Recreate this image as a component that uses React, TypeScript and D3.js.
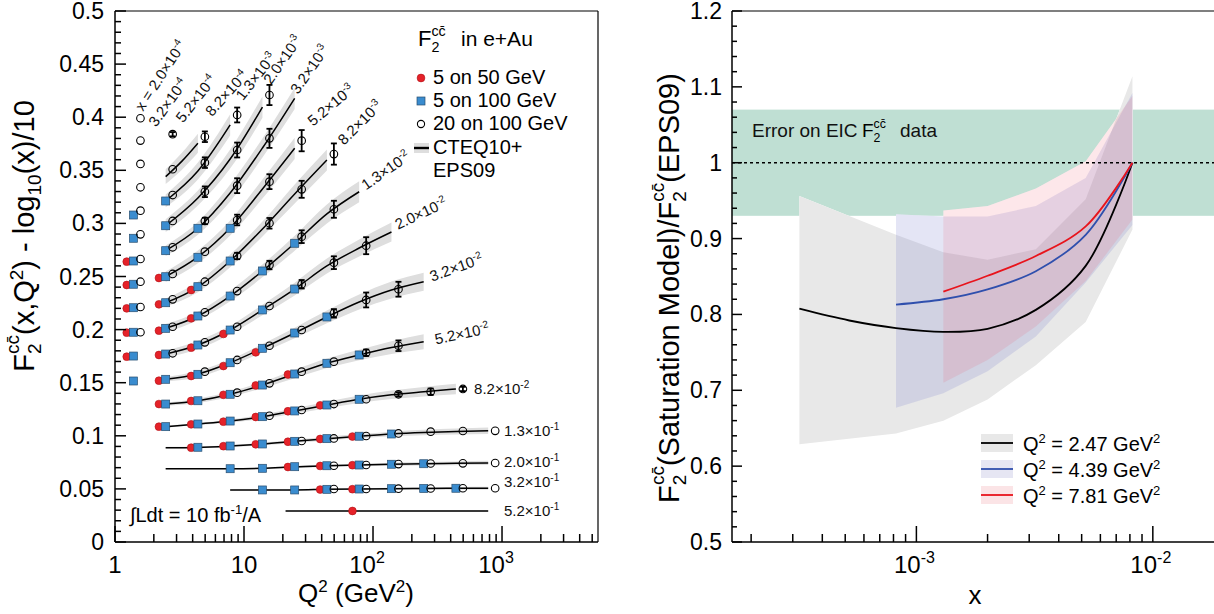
import React from 'react';
import * as d3 from 'd3';

const W = 1214;
const H = 614;
const FONT = "'Liberation Sans', Arial, Helvetica, sans-serif";

// ---------------- Left panel: F2cc(x,Q2) - log10(x)/10 versus Q2 ----------------
const Q2_COLUMNS = [1.39, 2.47, 4.39, 7.81, 13.9, 24.7, 43.9, 78.1, 139, 247, 439, 781];
const RED_Q2_FACTOR = 0.887; // 5 on 50 GeV points drawn slightly left
const WHITE_Q2_FACTOR = 1.133; // 20 on 100 GeV points drawn slightly right

const BIN_MANTISSA = ['2.0', '3.2', '5.2', '8.2', '1.3', '2.0', '3.2', '5.2', '8.2', '1.3', '2.0', '3.2', '5.2', '8.2', '1.3', '2.0', '3.2', '5.2'];
const BIN_EXPONENT = [-4, -4, -4, -4, -3, -3, -3, -3, -3, -2, -2, -2, -2, -2, -1, -1, -1, -1];
const LABEL_Q2 = [1.65, 2.08, 3.37, 5.65, 9.83, 16.2, 26.2, 34.3, 59.6, 88.3, 156, 287, 308, 607, 1036, 1036, 1036, 1036];
const LABEL_VAL = [0.405, 0.39, 0.394, 0.4, 0.415, 0.43, 0.421, 0.391, 0.373, 0.331, 0.294, 0.245, 0.186, 0.139, 0.0998, 0.0706, 0.0518, 0.0245];
const LABEL_ANGLE = [57, 54, 52, 48, 52, 55, 55, 40, 45, 35, 25, 20, 12, 0, 0, 0, 0, 0];

// model curves CTEQ10+EPS09: [Q2, value, band half width]
const CURVE_8_2E4 = [[2.47, 0.344, 0.007], [3.29, 0.3584, 0.008], [4.39, 0.3755, 0.009]];
const CURVE_1_3E3 = [[2.47, 0.3211, 0.006], [4.39, 0.3493, 0.008], [7.81, 0.3927, 0.01]];
const CURVE_2_0E3 = [[2.47, 0.2978, 0.006], [4.39, 0.3239, 0.007], [7.81, 0.3606, 0.009], [13.9, 0.4096, 0.01]];
const CURVE_3_2E3 = [[2.47, 0.2743, 0.005], [4.39, 0.2954, 0.006], [7.81, 0.3286, 0.008], [13.9, 0.371, 0.009], [24.7, 0.4178, 0.01]];
const CURVE_5_2E3 = [[2.47, 0.2498, 0.005], [4.39, 0.2684, 0.006], [7.81, 0.2957, 0.007], [13.9, 0.3324, 0.009], [24.7, 0.3707, 0.01]];
const CURVE_8_2E3 = [[2.47, 0.2253, 0.004], [4.39, 0.2401, 0.005], [7.81, 0.2646, 0.006], [13.9, 0.2947, 0.007], [24.7, 0.3277, 0.009], [43.9, 0.3597, 0.01]];
const CURVE_1_3E2 = [[2.47, 0.2012, 0.004], [4.39, 0.2128, 0.004], [7.81, 0.2316, 0.005], [13.9, 0.2552, 0.006], [24.7, 0.2813, 0.007], [43.9, 0.3089, 0.009], [78.1, 0.3298, 0.01]];
const CURVE_2_0E2 = [[2.47, 0.177, 0.003], [4.39, 0.1855, 0.004], [7.81, 0.1996, 0.004], [13.9, 0.2185, 0.005], [24.7, 0.2382, 0.006], [43.9, 0.2599, 0.007], [78.1, 0.2768, 0.008], [139, 0.2919, 0.009]];
const CURVE_3_2E2 = [[2.47, 0.1532, 0.002], [4.39, 0.1582, 0.003], [7.81, 0.1688, 0.003], [13.9, 0.1824, 0.004], [24.7, 0.1968, 0.005], [43.9, 0.2119, 0.006], [78.1, 0.226, 0.007], [139, 0.2373, 0.008], [247, 0.2451, 0.0085]];
const CURVE_5_2E2 = [[2.47, 0.1299, 0.0015], [4.39, 0.133, 0.002], [7.81, 0.1391, 0.0025], [13.9, 0.1478, 0.003], [24.7, 0.1582, 0.004], [43.9, 0.1683, 0.0045], [78.1, 0.1761, 0.005], [139, 0.1831, 0.006], [247, 0.1886, 0.007]];
const CURVE_8_2E2 = [[2.47, 0.1086, 0.001], [4.39, 0.1111, 0.001], [7.81, 0.1139, 0.0015], [13.9, 0.118, 0.002], [24.7, 0.1234, 0.0025], [43.9, 0.129, 0.003], [78.1, 0.1344, 0.0035], [139, 0.1386, 0.004], [247, 0.1415, 0.0045], [439, 0.1441, 0.005]];
const CURVE_1_3E1 = [[2.47, 0.0888, 0.0008], [4.39, 0.0891, 0.0008], [7.81, 0.0904, 0.001], [13.9, 0.0923, 0.0012], [24.7, 0.0948, 0.0015], [43.9, 0.0973, 0.0018], [78.1, 0.0996, 0.002], [139, 0.1017, 0.0022], [247, 0.1031, 0.0025], [439, 0.104, 0.0028], [781, 0.1047, 0.003]];
const CURVE_2_0E1 = [[2.47, 0.069, 0.0006], [4.39, 0.069, 0.0006], [7.81, 0.069, 0.0007], [13.9, 0.0694, 0.0008], [24.7, 0.0709, 0.001], [43.9, 0.0718, 0.0011], [78.1, 0.0725, 0.0012], [139, 0.0732, 0.0014], [247, 0.0737, 0.0016], [439, 0.0741, 0.0018], [781, 0.0744, 0.002]];
const CURVE_3_2E1 = [[7.81, 0.049, 0.0005], [13.9, 0.049, 0.0006], [24.7, 0.049, 0.0007], [43.9, 0.0496, 0.0008], [78.1, 0.0499, 0.0009], [139, 0.0502, 0.001], [247, 0.0504, 0.0011], [439, 0.0506, 0.0013], [781, 0.0506, 0.0015]];
const CURVE_5_2E1 = [[21, 0.0292, 0.0005], [781, 0.0292, 0.001]];
const CURVES = [null, null, null, CURVE_8_2E4, CURVE_1_3E3, CURVE_2_0E3, CURVE_3_2E3, CURVE_5_2E3, CURVE_8_2E3, CURVE_1_3E2, CURVE_2_0E2, CURVE_3_2E2, CURVE_5_2E2, CURVE_8_2E2, CURVE_1_3E1, CURVE_2_0E1, CURVE_3_2E1, CURVE_5_2E1];

const _ = null;
// pseudo-data, one row per x bin, one entry per Q2 column
const RED_VALUES = [
  [], [], [], [], [], [],
  [0.264],
  [0.242, 0.2486],
  [0.22, 0.2238, 0.2373],
  [0.1971, 0.199, 0.2106],
  [0.1745, 0.1761, 0.183, 0.1959],
  [_, 0.1519, 0.1563, 0.1657, 0.1786],
  [_, 0.1299, 0.1328, 0.1386, 0.1474, 0.1577],
  [_, 0.1086, 0.1108, 0.1133, 0.1177, 0.1231, 0.1287],
  [_, _, 0.0888, 0.0902, 0.092, 0.0944, 0.097, 0.0993],
  [_, _, _, _, _, 0.0706, 0.0716, 0.0723],
  [_, _, _, _, _, _, 0.0494, 0.0497],
  [_, _, _, _, _, _, _, 0.0292],
];
const BLUE_VALUES = [
  [], [], [], [],
  [0.3079, 0.3211],
  [0.286, 0.2978],
  [0.2646, 0.2743, 0.2954],
  [0.2427, 0.2498, 0.2681, 0.2954],
  [0.2206, 0.2253, 0.2404, 0.2646],
  [0.1975, 0.2012, 0.2128, 0.2316, 0.2552, 0.2813],
  [0.1751, 0.177, 0.1855, 0.1996, 0.2185, 0.2382],
  [0.1516, 0.1532, 0.1579, 0.1688, 0.1824, 0.1968, 0.2119],
  [_, 0.1299, 0.133, 0.1391, 0.1478, 0.1582, 0.1683, 0.1761],
  [_, 0.1086, 0.1111, 0.1139, 0.118, 0.1234, 0.129, 0.1344],
  [_, _, 0.0892, 0.0904, 0.0923, 0.0948, 0.0973, 0.0996, 0.1017],
  [_, _, _, 0.069, 0.0694, 0.0709, 0.0718, 0.0725, 0.0732, 0.0737],
  [_, _, _, _, 0.049, 0.049, 0.0496, 0.0499, 0.0502, 0.0504, 0.0506],
  [],
];
const WHITE_VALUES = [
  [0.399],
  [0.378],
  [0.356, 0.384],
  [0.334, 0.351, 0.3816],
  [0.312, 0.3267, 0.3572, 0.4021],
  [0.2897, 0.3023, 0.3298, 0.3691, 0.4209],
  [0.2665, 0.2775, 0.3023, 0.3355, 0.3801],
  [0.2451, 0.2524, 0.2734, 0.3032, 0.3393, 0.3779],
  [0.2213, 0.2285, 0.2451, 0.2693, 0.3001, 0.3321, 0.3653],
  [0.1975, 0.2027, 0.2163, 0.2363, 0.2608, 0.2875, 0.3133],
  [_, 0.1777, 0.188, 0.2027, 0.2222, 0.2427, 0.263, 0.279],
  [_, _, 0.1604, 0.1714, 0.1848, 0.1996, 0.2153, 0.2279, 0.238],
  [_, _, _, 0.1406, 0.1494, 0.1604, 0.1698, 0.1782, 0.1848],
  [_, _, _, _, 0.1189, 0.1243, 0.1299, 0.1344, 0.1391, 0.1415, 0.1441],
  [_, _, _, _, _, 0.0951, 0.0975, 0.0998, 0.1022, 0.1039, 0.1045, 0.1047],
  [_, _, _, _, _, _, 0.0718, 0.0725, 0.0734, 0.0739, 0.0741, 0.0744],
  [_, _, _, _, _, _, 0.0499, 0.0499, 0.0502, 0.0504, 0.0506, 0.0506],
  [],
];
const WHITE_ERRORS = [
  [], [],
  [_, 0.002],
  [_, _, 0.005],
  [_, _, 0.005, 0.007],
  [_, _, 0.005, 0.007, 0.0095],
  [_, _, 0.003, 0.007, 0.009],
  [_, _, _, 0.005, 0.007, 0.01],
  [_, _, _, 0.003, 0.005, 0.008, 0.01],
  [_, _, _, _, 0.004, 0.006, 0.008],
  [_, _, _, _, _, 0.004, 0.006, 0.008],
  [_, _, _, _, _, _, 0.004, 0.007, 0.007],
  [_, _, _, _, _, _, _, 0.003, 0.005],
  [_, _, _, _, _, _, _, _, 0.002, 0.003, 0.002],
  [], [], [], [],
];

// ---------------- Right panel: ratio saturation model / EPS09 ----------------
const EIC_ERROR_BAND = [0.93, 1.07];
const X_247 = [3.2e-4, 8.2e-4, 1.3e-3, 2.0e-3, 3.2e-3, 5.2e-3, 8.2e-3];
const BAND_247_LO = [0.629, 0.643, 0.66, 0.688, 0.733, 0.79, 0.912];
const BAND_247_HI = [0.956, 0.905, 0.882, 0.872, 0.886, 0.952, 1.114];
const X_247_LINE = [3.2e-4, 5.2e-4, 8.2e-4, 1.3e-3, 2.0e-3, 3.2e-3, 5.2e-3, 8.2e-3];
const LINE_247 = [0.8075, 0.792, 0.782, 0.777, 0.781, 0.806, 0.864, 1.0];
const X_439 = [8.2e-4, 1.3e-3, 2.0e-3, 3.2e-3, 5.2e-3, 8.2e-3];
const BAND_439_LO = [0.677, 0.696, 0.725, 0.771, 0.842, 0.918];
const BAND_439_HI = [0.932, 0.929, 0.929, 0.943, 0.98, 1.092];
const LINE_439 = [0.813, 0.82, 0.833, 0.857, 0.905, 1.0];
const X_781 = [1.3e-3, 2.0e-3, 3.2e-3, 5.2e-3, 8.2e-3];
const BAND_781_LO = [0.71, 0.74, 0.784, 0.844, 0.925];
const BAND_781_HI = [0.937, 0.943, 0.966, 1.002, 1.088];
const LINE_781 = [0.83, 0.851, 0.877, 0.916, 1.0];
const RIGHT_LEGEND = ['2.47', '4.39', '7.81'];

const CC = 'c' + 'c\u0304';

function F2cc({ x, y, size }) {
  const s = size * 0.65;
  return (
    <text x={x} y={y} fontSize={size}>
      F<tspan fontSize={s} dy={size * 0.25}>2</tspan>
      <tspan fontSize={s} dx={-s * 0.556} dy={-size * 0.72}>{CC}</tspan>
    </text>
  );
}

export default function App() {
  const xL = d3.scaleLog().domain([1, 5546]).range([115, 598]);
  const yL = d3.scaleLinear().domain([0, 0.5]).range([542, 11]);
  const xR = d3.scaleLog().domain([1.66e-4, 2e-2]).range([732, 1224]);
  const yR = d3.scaleLinear().domain([0.5, 1.2]).range([542, 11]);

  const curveLine = d3.line().x((d) => xL(d[0])).y((d) => yL(d[1])).curve(d3.curveMonotoneX);
  const curveBand = d3.area().x((d) => xL(d[0])).y0((d) => yL(d[1] - d[2])).y1((d) => yL(d[1] + d[2])).curve(d3.curveMonotoneX);

  const bandR = (xs, lo, hi) =>
    d3.area().x((d) => xR(d)).y0((d, i) => yR(lo[i])).y1((d, i) => yR(hi[i]))(xs);
  const lineR = (xs, vs) =>
    d3.line().x((d) => xR(d)).y((d, i) => yR(vs[i])).curve(d3.curveCatmullRom.alpha(0.5))(xs);

  // ticks
  const leftXMinor = [];
  [1, 10, 100, 1000].forEach((d) => {
    for (let k = 2; k <= 9; k++) if (k * d <= 5546) leftXMinor.push(k * d);
  });
  const leftYMajor = d3.range(0, 11).map((i) => i * 0.05);
  const leftYMinor = d3.range(0, 51).map((i) => i * 0.01).filter((v, i) => i % 5 !== 0);
  const rightXMinor = [];
  [1e-4, 1e-3, 1e-2].forEach((d) => {
    for (let k = 2; k <= 9; k++) {
      const v = k * d;
      if (v >= 1.66e-4 && v <= 2e-2) rightXMinor.push(v);
    }
  });
  const rightYMajor = d3.range(0, 8).map((i) => 0.5 + i * 0.1);
  const rightYMinor = d3.range(0, 36).map((i) => 0.5 + i * 0.02).filter((v, i) => i % 5 !== 0);
  const fmt = (v) => String(+v.toFixed(2));

  const markers = [];
  RED_VALUES.forEach((row, b) =>
    row.forEach((v, c) => {
      if (v == null) return;
      markers.push(
        <circle key={`r${b}-${c}`} cx={xL(Q2_COLUMNS[c] * RED_Q2_FACTOR)} cy={yL(v)} r={3.9} fill="#e52229" stroke="#b01218" strokeWidth={0.6} />
      );
    })
  );
  BLUE_VALUES.forEach((row, b) =>
    row.forEach((v, c) => {
      if (v == null) return;
      const cx = xL(Q2_COLUMNS[c]);
      const cy = yL(v);
      markers.push(
        <rect key={`b${b}-${c}`} x={cx - 4} y={cy - 4} width={8} height={8} fill="#3a8ccf" stroke="#2a4f70" strokeWidth={0.7} />
      );
    })
  );
  WHITE_VALUES.forEach((row, b) =>
    row.forEach((v, c) => {
      if (v == null) return;
      const cx = xL(Q2_COLUMNS[c] * WHITE_Q2_FACTOR);
      const cy = yL(v);
      const e = (WHITE_ERRORS[b] || [])[c];
      if (e) {
        markers.push(
          <g key={`e${b}-${c}`} stroke="#000" strokeWidth={1.8}>
            <line x1={cx} x2={cx} y1={yL(v - e)} y2={yL(v + e)} />
            <line x1={cx - 3} x2={cx + 3} y1={yL(v - e)} y2={yL(v - e)} />
            <line x1={cx - 3} x2={cx + 3} y1={yL(v + e)} y2={yL(v + e)} />
          </g>
        );
      }
      markers.push(
        <circle key={`w${b}-${c}`} cx={cx} cy={cy} r={3.8} fill="none" stroke="#000" strokeWidth={1.1} />
      );
    })
  );

  return (
    <svg width={W} height={H} style={{ position: 'absolute', left: 0, top: 0 }} fontFamily={FONT}>
      <rect x={0} y={0} width={W} height={H} fill="#fff" />

      {/* ---------------- LEFT PANEL ---------------- */}
      <g>
        {CURVES.map((c, i) => (c ? <path key={`band${i}`} d={curveBand(c)} fill="#dedede" /> : null))}
        {CURVES.map((c, i) => (c ? <path key={`line${i}`} d={curveLine(c)} fill="none" stroke="#000" strokeWidth={1.5} /> : null))}
        {markers}

        {BIN_MANTISSA.map((m, i) => (
          <text
            key={`lab${i}`}
            transform={`translate(${xL(LABEL_Q2[i])},${yL(LABEL_VAL[i])}) rotate(${-LABEL_ANGLE[i]})`}
            fontSize={15}
            fill="#111"
          >
            {i === 0 ? 'x = ' : ''}
            {m}×10<tspan fontSize={10} dy={-6}>{BIN_EXPONENT[i]}</tspan>
          </text>
        ))}

        {/* legend */}
        <F2cc x={418} y={46} size={22} />
        <text x={461} y={46} fontSize={21}>in e+Au</text>
        <circle cx={421} cy={78} r={3.9} fill="#e52229" stroke="#b01218" strokeWidth={0.6} />
        <text x={433} y={84} fontSize={20}>5 on 50 GeV</text>
        <rect x={417} y={97} width={8} height={8} fill="#3a8ccf" stroke="#2a4f70" strokeWidth={0.7} />
        <text x={433} y={107} fontSize={20}>5 on 100 GeV</text>
        <circle cx={421} cy={124} r={3.6} fill="none" stroke="#000" strokeWidth={1.1} />
        <text x={433} y={130} fontSize={20}>20 on 100 GeV</text>
        <rect x={414} y={143} width={15} height={10} fill="#dedede" />
        <line x1={414} x2={429} y1={148} y2={148} stroke="#000" strokeWidth={2.4} />
        <text x={433} y={154} fontSize={20}>CTEQ10+</text>
        <text x={433} y={177} fontSize={20}>EPS09</text>

        <text x={130} y={522} fontSize={20}>
          ∫Ldt = 10 fb<tspan fontSize={13} dy={-8}>-1</tspan><tspan dy={8}>/A</tspan>
        </text>

        {/* frame and axes */}
        <line x1={115} x2={598} y1={11} y2={11} stroke="#000" strokeWidth={1.2} />
        <line x1={598} x2={598} y1={11} y2={542} stroke="#000" strokeWidth={1.2} />
        <line x1={115} x2={115} y1={11} y2={542} stroke="#000" strokeWidth={1.5} />
        <line x1={115} x2={598} y1={542} y2={542} stroke="#000" strokeWidth={1.5} />
        {[1, 10, 100, 1000].map((v) => (
          <line key={`lxM${v}`} x1={xL(v)} x2={xL(v)} y1={542} y2={526} stroke="#000" strokeWidth={1.5} />
        ))}
        {leftXMinor.map((v) => (
          <line key={`lxm${v}`} x1={xL(v)} x2={xL(v)} y1={542} y2={534} stroke="#000" strokeWidth={1.5} />
        ))}
        {leftYMajor.map((v) => (
          <line key={`lyM${v}`} x1={115} x2={126} y1={yL(v)} y2={yL(v)} stroke="#000" strokeWidth={1.5} />
        ))}
        {leftYMinor.map((v) => (
          <line key={`lym${v}`} x1={115} x2={121} y1={yL(v)} y2={yL(v)} stroke="#000" strokeWidth={1.5} />
        ))}
        {leftYMajor.map((v) => (
          <text key={`lyl${v}`} x={104} y={yL(v) + 8} fontSize={23} textAnchor="end">{fmt(v)}</text>
        ))}
        <text x={xL(1)} y={573} fontSize={24} textAnchor="middle">1</text>
        <text x={xL(10)} y={573} fontSize={24} textAnchor="middle">10</text>
        <text x={xL(100) - 6} y={573} fontSize={24} textAnchor="middle">10<tspan fontSize={16} dy={-10}>2</tspan></text>
        <text x={xL(1000) - 6} y={573} fontSize={24} textAnchor="middle">10<tspan fontSize={16} dy={-10}>3</tspan></text>
        <text x={356} y={602} fontSize={26} textAnchor="middle">
          Q<tspan fontSize={17} dy={-10}>2</tspan><tspan dy={10}> (GeV</tspan><tspan fontSize={17} dy={-10}>2</tspan><tspan dy={10}>)</tspan>
        </text>
        <text transform="translate(34,236) rotate(-90)" fontSize={29} textAnchor="middle">
          F<tspan fontSize={19} dy={7}>2</tspan>
          <tspan fontSize={19} dx={-10.5} dy={-22}>{CC}</tspan>
          <tspan dy={15}>(x,Q</tspan><tspan fontSize={19} dy={-11}>2</tspan>
          <tspan dy={11}>) - log</tspan><tspan fontSize={19} dy={7}>10</tspan>
          <tspan dy={-7}>(x)/10</tspan>
        </text>
      </g>

      {/* ---------------- RIGHT PANEL ---------------- */}
      <g>
        <rect x={732} y={yR(EIC_ERROR_BAND[1])} width={1224 - 732} height={yR(EIC_ERROR_BAND[0]) - yR(EIC_ERROR_BAND[1])} fill="#bfdfd3" />
        <path d={bandR(X_247, BAND_247_LO, BAND_247_HI)} fill="#fff" />
        <path d={bandR(X_439, BAND_439_LO, BAND_439_HI)} fill="#fff" />
        <path d={bandR(X_781, BAND_781_LO, BAND_781_HI)} fill="#fff" />
        <path d={bandR(X_247, BAND_247_LO, BAND_247_HI)} fill="#e8e8e8" />
        <path d={bandR(X_439, BAND_439_LO, BAND_439_HI)} fill="rgb(120,125,205)" fillOpacity={0.2} />
        <path d={bandR(X_781, BAND_781_LO, BAND_781_HI)} fill="rgb(240,70,95)" fillOpacity={0.13} />
        <line x1={732} x2={1224} y1={yR(1)} y2={yR(1)} stroke="#000" strokeWidth={1.5} strokeDasharray="3,3" />
        <path d={lineR(X_247_LINE, LINE_247)} fill="none" stroke="#000" strokeWidth={1.8} />
        <path d={lineR(X_439, LINE_439)} fill="none" stroke="#2f4fad" strokeWidth={1.8} />
        <path d={lineR(X_781, LINE_781)} fill="none" stroke="#e8141c" strokeWidth={1.8} />

        <text x={752} y={137} fontSize={19} fill="#111">Error on EIC</text>
        <F2cc x={862} y={137} size={19} />
        <text x={900} y={137} fontSize={19} fill="#111">data</text>

        {/* legend */}
        {RIGHT_LEGEND.map((q, i) => {
          const cy = 443 + i * 26;
          const fill = i === 0 ? '#e8e8e8' : i === 1 ? '#e6e6f3' : '#fbe4e6';
          const stroke = i === 0 ? '#000' : i === 1 ? '#2f4fad' : '#e8141c';
          return (
            <g key={`rl${i}`}>
              <rect x={981} y={cy - 9} width={32} height={18} fill={fill} />
              <line x1={981} x2={1013} y1={cy} y2={cy} stroke={stroke} strokeWidth={1.8} />
              <text x={1023} y={cy + 8} fontSize={20}>
                Q<tspan fontSize={13} dy={-8}>2</tspan><tspan dy={8}> = {q} GeV</tspan><tspan fontSize={13} dy={-8}>2</tspan>
              </text>
            </g>
          );
        })}

        {/* frame and axes */}
        <line x1={732} x2={1224} y1={11} y2={11} stroke="#000" strokeWidth={1.2} />
        <line x1={732} x2={732} y1={11} y2={542} stroke="#000" strokeWidth={1.5} />
        <line x1={732} x2={1224} y1={542} y2={542} stroke="#000" strokeWidth={1.5} />
        {[1e-3, 1e-2].map((v) => (
          <line key={`rxM${v}`} x1={xR(v)} x2={xR(v)} y1={542} y2={526} stroke="#000" strokeWidth={1.5} />
        ))}
        {rightXMinor.map((v) => (
          <line key={`rxm${v}`} x1={xR(v)} x2={xR(v)} y1={542} y2={534} stroke="#000" strokeWidth={1.5} />
        ))}
        {rightYMajor.map((v) => (
          <line key={`ryM${v}`} x1={732} x2={742} y1={yR(v)} y2={yR(v)} stroke="#000" strokeWidth={1.5} />
        ))}
        {rightYMinor.map((v) => (
          <line key={`rym${v}`} x1={732} x2={737} y1={yR(v)} y2={yR(v)} stroke="#000" strokeWidth={1.5} />
        ))}
        {rightYMajor.map((v) => (
          <text key={`ryl${v}`} x={722} y={yR(v) + 8} fontSize={23} textAnchor="end">{fmt(v)}</text>
        ))}
        <text x={xR(1e-3) - 2} y={573} fontSize={24} textAnchor="middle">10<tspan fontSize={16} dy={-10}>-3</tspan></text>
        <text x={xR(1e-2) - 2} y={573} fontSize={24} textAnchor="middle">10<tspan fontSize={16} dy={-10}>-2</tspan></text>
        <text x={975} y={604} fontSize={26} textAnchor="middle">x</text>
        <text transform="translate(679,288) rotate(-90)" fontSize={29} textAnchor="middle">
          F<tspan fontSize={19} dy={7}>2</tspan>
          <tspan fontSize={19} dx={-10.5} dy={-22}>{CC}</tspan>
          <tspan dy={15}>(Saturation Model)/F</tspan><tspan fontSize={19} dy={7}>2</tspan>
          <tspan fontSize={19} dx={-10.5} dy={-22}>{CC}</tspan>
          <tspan dy={15}>(EPS09)</tspan>
        </text>
      </g>
    </svg>
  );
}
